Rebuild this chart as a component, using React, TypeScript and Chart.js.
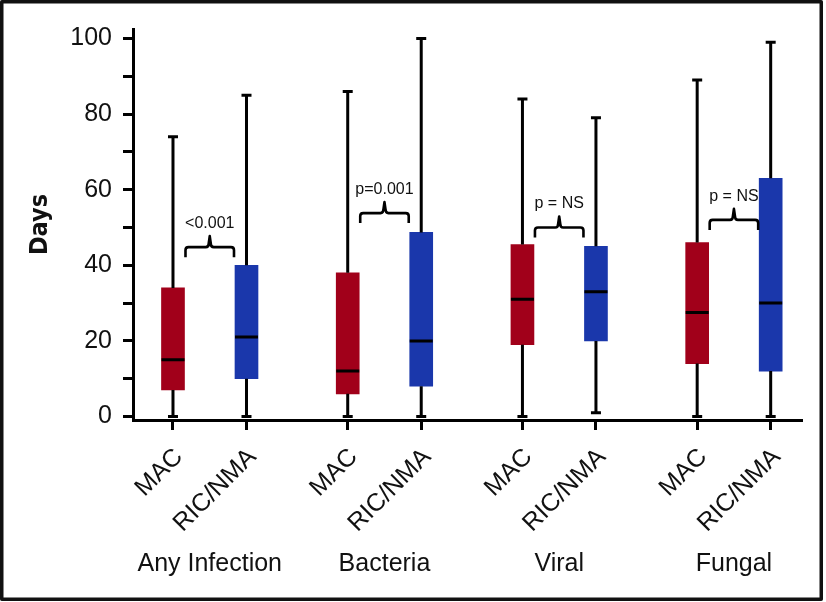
import React, { useEffect, useRef } from "react";
import { Chart, registerables } from "chart.js";

Chart.register(...registerables);

// ---- data ----
const groups = ["Any Infection", "Bacteria", "Viral", "Fungal"];
const regimens = ["MAC", "RIC/NMA"];

const macMin = [0, 0, 0, 0];
const macQ1 = [7, 6, 19, 14];
const macMedian = [15, 12, 31, 27.5];
const macQ3 = [34, 38, 45.5, 46];
const macMax = [74, 86, 84, 89];

const ricMin = [0, 0, 1, 0];
const ricQ1 = [10, 8, 20, 12];
const ricMedian = [21, 20, 33, 30];
const ricQ3 = [40, 48.7, 45, 63];
const ricMax = [85, 100, 79, 99];

const pLabels = ["<0.001", "p=0.001", "p = NS", "p = NS"];
const bracketLevels = [44.8, 53.8, 50, 52];

const yTickValues = [0, 10, 20, 30, 40, 50, 60, 70, 80, 90, 100];

// ---- layout constants ----
const GROUP_STEP = 2.377;
const RED = "#A1001A";
const BLUE = "#1A37AB";
const FONT = "'Liberation Sans', Arial, Helvetica, sans-serif";
const BOX_W = 23;

const posOf = (g: number, r: number) => g * GROUP_STEP + r;
const positions: number[] = [];
groups.forEach((_, g) => regimens.forEach((_, r) => positions.push(posOf(g, r))));

const series = [
  { min: macMin, q1: macQ1, med: macMedian, q3: macQ3, max: macMax },
  { min: ricMin, q1: ricQ1, med: ricMedian, q3: ricQ3, max: ricMax },
];

const extrasPlugin = {
  id: "boxExtras",
  afterDatasetsDraw(chart: any) {
    const ctx = chart.ctx as CanvasRenderingContext2D;
    const xs = chart.scales.x;
    const ys = chart.scales.y;
    ctx.save();
    ctx.strokeStyle = "#000";
    ctx.lineWidth = 3;
    ctx.lineCap = "butt";
    series.forEach((s, r) => {
      groups.forEach((_, g) => {
        const cx = xs.getPixelForValue(posOf(g, r));
        const yMin = ys.getPixelForValue(s.min[g]);
        const yQ1 = ys.getPixelForValue(s.q1[g]);
        const yMed = ys.getPixelForValue(s.med[g]);
        const yQ3 = ys.getPixelForValue(s.q3[g]);
        const yMax = ys.getPixelForValue(s.max[g]);
        ctx.beginPath();
        ctx.moveTo(cx, yQ3);
        ctx.lineTo(cx, yMax);
        ctx.moveTo(cx, yQ1);
        ctx.lineTo(cx, yMin);
        ctx.moveTo(cx - 5, yMax);
        ctx.lineTo(cx + 5, yMax);
        ctx.moveTo(cx - 5, yMin);
        ctx.lineTo(cx + 5, yMin);
        ctx.moveTo(cx - BOX_W / 2, yMed);
        ctx.lineTo(cx + BOX_W / 2, yMed);
        ctx.stroke();
      });
    });

    // brackets
    ctx.lineWidth = 2.6;
    ctx.lineJoin = "round";
    groups.forEach((_, g) => {
      const x1 = xs.getPixelForValue(posOf(g, 0)) + BOX_W / 2 + 1;
      const x2 = xs.getPixelForValue(posOf(g, 1)) - BOX_W / 2 - 1;
      const mid = (x1 + x2) / 2;
      const yl = ys.getPixelForValue(bracketLevels[g]);
      const drop = 10;
      const peak = 11;
      const rr = 3;
      ctx.beginPath();
      ctx.moveTo(x1, yl + drop);
      ctx.lineTo(x1, yl + rr);
      ctx.quadraticCurveTo(x1, yl, x1 + rr, yl);
      ctx.lineTo(mid - 4, yl);
      ctx.quadraticCurveTo(mid - 1, yl, mid - 1, yl - 4);
      ctx.lineTo(mid, yl - peak);
      ctx.lineTo(mid + 1, yl - 4);
      ctx.quadraticCurveTo(mid + 1, yl, mid + 4, yl);
      ctx.lineTo(x2 - rr, yl);
      ctx.quadraticCurveTo(x2, yl, x2, yl + rr);
      ctx.lineTo(x2, yl + drop);
      ctx.stroke();

      ctx.fillStyle = "#111";
      ctx.font = `16px ${FONT}`;
      ctx.textAlign = "center";
      ctx.textBaseline = "alphabetic";
      ctx.fillText(pLabels[g], mid, yl - peak - 8);
    });

    // rotated category labels (one per box, at the axis ticks)
    ctx.fillStyle = "#111";
    ctx.font = `25px ${FONT}`;
    ctx.textAlign = "right";
    ctx.textBaseline = "middle";
    xs.ticks.forEach((t: any, i: number) => {
      const px = xs.getPixelForValue(t.value);
      ctx.save();
      ctx.translate(px + 6, xs.top + 33);
      ctx.rotate(-Math.PI / 4);
      ctx.fillText(regimens[i % 2], 0, 0);
      ctx.restore();
    });

    // group labels
    ctx.textAlign = "center";
    ctx.textBaseline = "middle";
    groups.forEach((name, g) => {
      const cx = (xs.getPixelForValue(posOf(g, 0)) + xs.getPixelForValue(posOf(g, 1))) / 2;
      ctx.fillText(name, cx, 564);
    });

    // outer frame
    ctx.lineWidth = 3.5;
    ctx.strokeStyle = "#111";
    ctx.strokeRect(1.75, 1.75, 819.5, 597.5);
    ctx.restore();
  },
};

export default function App() {
  const ref = useRef<HTMLCanvasElement>(null);
  useEffect(() => {
    const canvas = ref.current!;
    const chart = new Chart(canvas, {
      type: "bar",
      data: {
        datasets: series.map((s, r) => ({
          label: regimens[r],
          data: groups.map((_, g) => ({ x: posOf(g, r), y: [s.q1[g], s.q3[g]] })),
          backgroundColor: r === 0 ? RED : BLUE,
          borderWidth: 0,
          barThickness: BOX_W,
          grouped: false,
        })) as any,
      },
      options: {
        animation: false,
        responsive: false,
        layout: { padding: { top: 29, right: 24, bottom: 0, left: 0 } },
        plugins: { legend: { display: false }, tooltip: { enabled: false } },
        scales: {
          x: {
            type: "linear",
            offset: false,
            min: -0.544,
            max: 8.557,
            afterFit: (scale: any) => {
              scale.height = 182;
            },
            afterBuildTicks: (scale: any) => {
              scale.ticks = positions.map((v) => ({ value: v }));
            },
            border: { display: true, color: "#000", width: 3 },
            grid: {
              display: true,
              offset: false,
              drawOnChartArea: false,
              drawTicks: true,
              tickLength: 10,
              tickWidth: 3,
              tickColor: "#000",
            },
            ticks: {
              display: false,
              autoSkip: false,
            },
          },
          y: {
            type: "linear",
            min: -0.93,
            max: 102.5,
            afterFit: (scale: any) => {
              scale.width = 133;
            },
            afterBuildTicks: (scale: any) => {
              scale.ticks = yTickValues.map((v) => ({ value: v }));
            },
            border: { display: true, color: "#000", width: 3 },
            grid: {
              display: true,
              drawOnChartArea: false,
              drawTicks: true,
              tickLength: 10,
              tickWidth: 3,
              tickColor: "#000",
            },
            ticks: {
              padding: 11,
              color: "#111",
              font: { family: FONT, size: 25 },
              callback: (v: any) => (Number(v) % 20 === 0 ? String(v) : ""),
            },
            title: {
              display: true,
              text: "Days",
              color: "#111",
              font: { family: "'Liberation Sans Narrow', 'DejaVu Sans Condensed', " + FONT, size: 25, weight: "bold" },
              padding: { top: 25, bottom: 0 },
            },
          },
        },
      },
      plugins: [extrasPlugin],
    });
    return () => chart.destroy();
  }, []);
  return (
    <div style={{ position: "fixed", left: 0, top: 0, width: 826, height: 602, background: "#fff" }}>
      <canvas ref={ref} width={826} height={602} style={{ display: "block" }} />
    </div>
  );
}
